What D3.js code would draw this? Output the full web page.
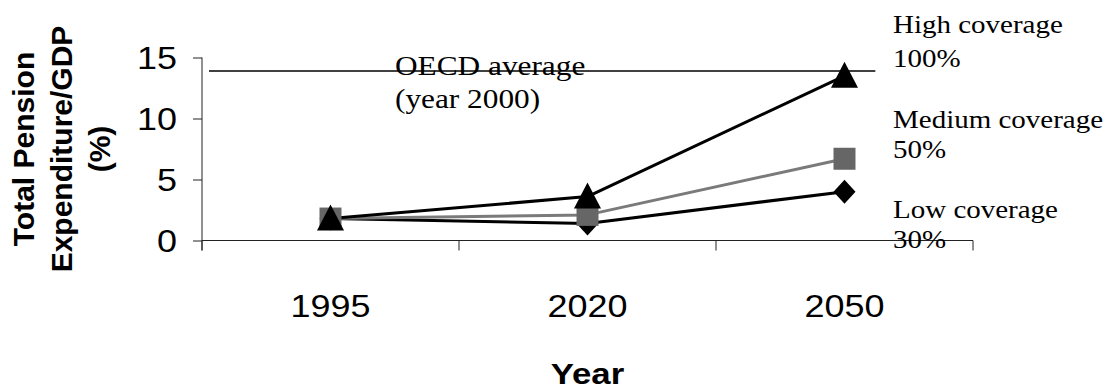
<!DOCTYPE html>
<html>
<head>
<meta charset="utf-8">
<script src="https://cdn.jsdelivr.net/npm/d3@7"></script>
<style>
  html, body { margin: 0; padding: 0; background: #fff; }
  svg { display: block; }
</style>
</head>
<body>
<svg id="chart" width="1107" height="391"></svg>
<script>
// Pension expenditure scenarios by coverage level
const years = ["1995", "2020", "2050"];
const lowCoverage = [1.8, 1.4, 4.0];
const mediumCoverage = [1.8, 2.1, 6.7];
const highCoverage = [1.8, 3.6, 13.5];
const yTickValues = [0, 5, 10, 15];
const oecdAverage = 13.9;

const seriesLabels = [
  ["High coverage", "100%"],
  ["Medium coverage", "50%"],
  ["Low coverage", "30%"]
];
const oecdLabel = ["OECD average", "(year 2000)"];
const yTitle = ["Total Pension", "Expenditure/GDP", "(%)"];
const xTitle = "Year";

const svg = d3.select("#chart");
const STRETCH = 1.16;   // horizontal text is set slightly wide
const sans = "'Liberation Sans', Arial, sans-serif";
const serif = "'Liberation Serif', 'Times New Roman', serif";

const x = d3.scaleBand().domain(years).range([202, 973]);
const y = d3.scaleLinear().domain([0, 15]).range([240.5, 57.5]);
const cx = d => x(d) + x.bandwidth() / 2;

// helper: text placed with a transform (optionally widened / rotated)
function wideText(g, px, py, str, opts) {
  const sx = opts.stretch === undefined ? STRETCH : opts.stretch;
  const t = g.append("text")
    .attr("transform", `translate(${px},${py}) scale(${sx},1)` + (opts.rotate ? ` rotate(${opts.rotate})` : ""))
    .attr("font-family", opts.family)
    .attr("font-size", opts.size)
    .attr("font-weight", opts.weight || "normal")
    .attr("text-anchor", opts.anchor || "start")
    .attr("fill", "#000")
    .text(str);
  return t;
}

// Y axis
const yAxis = svg.append("g")
  .attr("transform", `translate(${x.range()[0]},0)`)
  .call(d3.axisLeft(y).tickValues(yTickValues).tickSize(9).tickSizeOuter(0));
yAxis.select(".domain").remove();
yAxis.selectAll("line").attr("stroke", "#222");
yAxis.selectAll("text").remove();
yAxis.selectAll(".tick").each(function(d) {
  wideText(d3.select(this), -25, 11, d, { family: sans, size: 31, anchor: "end" });
});
svg.append("line")
  .attr("x1", x.range()[0]).attr("x2", x.range()[0])
  .attr("y1", y(15)).attr("y2", y(0) + 10)
  .attr("stroke", "#222").attr("stroke-width", 1);

// X axis line with tick marks between categories
const xAxisG = svg.append("g");
xAxisG.append("line")
  .attr("x1", x.range()[0]).attr("x2", x.range()[1])
  .attr("y1", y(0)).attr("y2", y(0))
  .attr("stroke", "#222").attr("stroke-width", 1);
const edges = years.map(d => x(d)).concat([x.range()[1]]);
xAxisG.selectAll("line.tk").data(edges).join("line")
  .attr("class", "tk")
  .attr("x1", d => d).attr("x2", d => d)
  .attr("y1", y(0)).attr("y2", y(0) + 10)
  .attr("stroke", "#222").attr("stroke-width", 1);
years.forEach(d => {
  wideText(xAxisG, cx(d), 317, d, { family: sans, size: 31, anchor: "middle" });
});

// OECD reference line
const oecdStart = x.range()[0] + 7;
const oecdEnd = cx(years[2]) + x.bandwidth() * 0.12;
svg.append("line")
  .attr("x1", oecdStart).attr("x2", oecdEnd)
  .attr("y1", y(oecdAverage)).attr("y2", y(oecdAverage))
  .attr("stroke", "#000").attr("stroke-width", 1.5);
wideText(svg, 395, 75, oecdLabel[0], { family: serif, size: 27 });
wideText(svg, 395, 108, oecdLabel[1], { family: serif, size: 27 });

// Series lines and markers
const line = d3.line().x((d, i) => cx(years[i])).y(d => y(d));
const series = [
  { values: lowCoverage, stroke: "#000", fill: "#000", symbol: "diamond" },
  { values: mediumCoverage, stroke: "#7a7a7a", fill: "#666", symbol: "square" },
  { values: highCoverage, stroke: "#000", fill: "#000", symbol: "triangle" }
];

series.forEach(s => {
  svg.append("path")
    .attr("d", line(s.values))
    .attr("fill", "none")
    .attr("stroke", s.stroke)
    .attr("stroke-width", 3)
    .attr("stroke-linejoin", "round");
});
series.forEach(s => {
  const g = svg.append("g");
  s.values.forEach((v, i) => {
    const px = cx(years[i]), py = y(v);
    let d;
    if (s.symbol === "square") {
      d = `M${px - 11},${py - 11}h22v22h-22z`;
    } else if (s.symbol === "diamond") {
      d = `M${px},${py - 12}L${px + 11},${py}L${px},${py + 12}L${px - 11},${py}Z`;
    } else {
      d = `M${px},${py - 14}L${px + 13.5},${py + 12}L${px - 13.5},${py + 12}Z`;
    }
    g.append("path").attr("d", d).attr("fill", s.fill);
  });
});

// Series annotations on the right
const labelX = 893;
const labelBaselines = [[33, 67], [128, 158], [218, 248]];
seriesLabels.forEach((lines, k) => {
  lines.forEach((str, j) => {
    wideText(svg, labelX, labelBaselines[k][j], str, { family: serif, size: 25 });
  });
});

// Axis titles
const titleCenterY = (y(0) + y(15)) / 2;
const titleBaselines = [34, 72, 110];
yTitle.forEach((str, i) => {
  wideText(svg, titleBaselines[i], titleCenterY, str,
    { family: sans, size: 30, weight: "bold", anchor: "middle", rotate: -90, stretch: 1 });
});
wideText(svg, cx(years[1]), 384, xTitle, { family: sans, size: 30, weight: "bold", anchor: "middle" });
</script>
</body>
</html>
